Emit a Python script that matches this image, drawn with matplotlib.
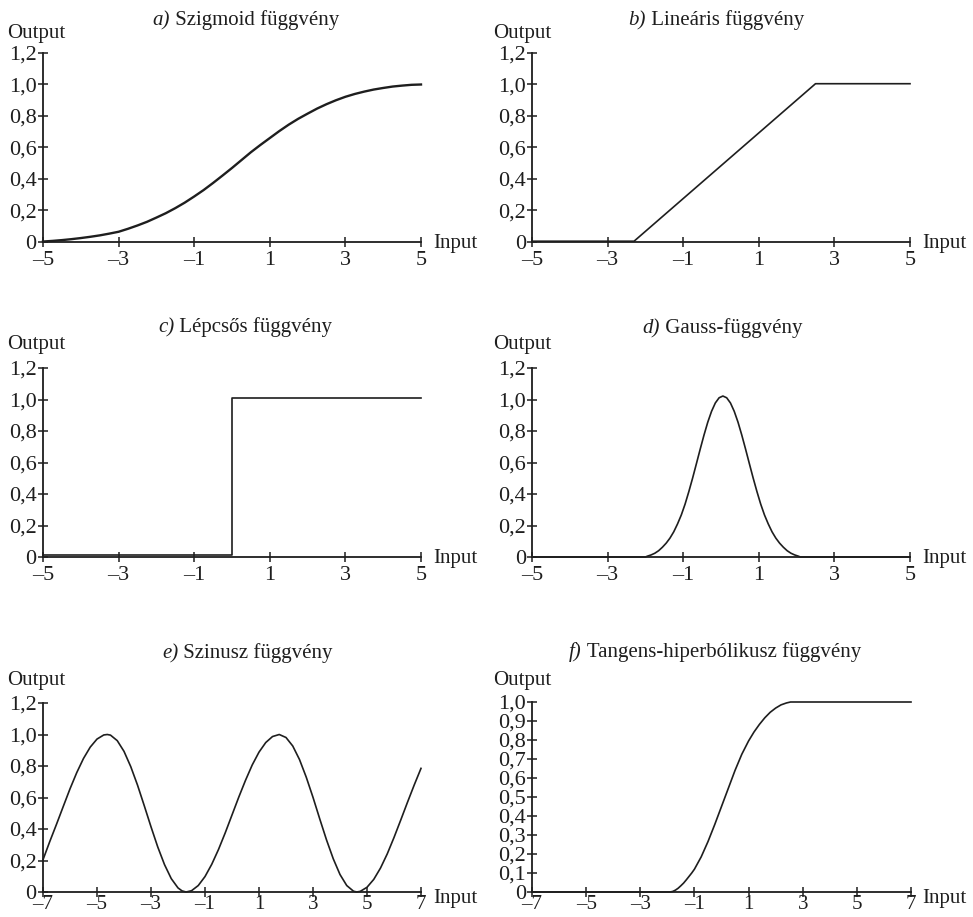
import matplotlib
matplotlib.use('Agg')
import matplotlib.pyplot as plt

W, H = 973, 917
plt.rcParams['font.family'] = ['Liberation Serif', 'DejaVu Serif']
plt.rcParams['font.size'] = 15

# ---------------- data ----------------
sig_x = [-5, -4.75, -4.5, -4.25, -4, -3.75, -3.5, -3.25, -3, -2.75, -2.5, -2.25, -2, -1.75, -1.5,
         -1.25, -1, -0.75, -0.5, -0.25, 0, 0.25, 0.5, 0.75, 1, 1.25, 1.5, 1.75, 2, 2.25, 2.5,
         2.75, 3, 3.25, 3.5, 3.75, 4, 4.25, 4.5, 4.75, 5]
sig_y = [0.003, 0.007, 0.012, 0.018, 0.025, 0.033, 0.042, 0.053, 0.065, 0.084, 0.105, 0.128,
         0.155, 0.183, 0.215, 0.25, 0.289, 0.33, 0.375, 0.422, 0.47, 0.52, 0.57, 0.616, 0.66,
         0.704, 0.745, 0.782, 0.815, 0.847, 0.875, 0.9, 0.922, 0.94, 0.955, 0.968, 0.978, 0.987,
         0.993, 0.998, 1.0]

lin_x = [-5, -2.3, 2.5, 5]
lin_y = [0.005, 0.005, 1.005, 1.005]

step_x = [-5, 0.0, 0.0, 5]
step_y = [0.015, 0.015, 1.01, 1.01]

gauss_x = [-5, -2.0, -1.95, -1.85, -1.75, -1.65, -1.55, -1.45, -1.35, -1.25, -1.15, -1.05, -0.95,
           -0.85, -0.75, -0.65, -0.55, -0.45, -0.35, -0.25, -0.15, -0.05, 0.05, 0.15, 0.25, 0.35,
           0.45, 0.55, 0.65, 0.75, 0.85, 0.95, 1.05, 1.15, 1.25, 1.35, 1.45, 1.55, 1.65, 1.75,
           1.85, 1.95, 2.05, 2.1, 5]
gauss_y = [0.0, 0.0, 0.005, 0.013, 0.024, 0.04, 0.062, 0.088, 0.12, 0.16, 0.21, 0.267, 0.336,
           0.416, 0.502, 0.593, 0.685, 0.774, 0.856, 0.925, 0.978, 1.011, 1.022, 1.011, 0.978,
           0.925, 0.856, 0.774, 0.685, 0.593, 0.502, 0.416, 0.336, 0.267, 0.21, 0.16, 0.12,
           0.088, 0.062, 0.04, 0.024, 0.013, 0.005, 0.0, 0.0]

sin_x = [-7, -6.75, -6.5, -6.25, -6, -5.75, -5.5, -5.25, -5, -4.75, -4.62, -4.5, -4.25, -4, -3.75,
         -3.5, -3.25, -3, -2.75, -2.5, -2.25, -2, -1.85, -1.7, -1.5, -1.25, -1, -0.75, -0.5,
         -0.25, 0, 0.25, 0.5, 0.75, 1, 1.25, 1.5, 1.75, 2, 2.25, 2.5, 2.75, 3, 3.25, 3.5, 3.75,
         4, 4.25, 4.5, 4.62, 4.75, 5, 5.25, 5.5, 5.75, 6, 6.25, 6.5, 6.75, 7]
sin_y = [0.205, 0.32, 0.43, 0.543, 0.655, 0.758, 0.848, 0.92, 0.971, 0.997, 1.0, 0.996, 0.961,
         0.893, 0.796, 0.679, 0.548, 0.414, 0.286, 0.174, 0.085, 0.026, 0.007, 0.0, 0.008, 0.041,
         0.098, 0.176, 0.27, 0.376, 0.489, 0.602, 0.709, 0.807, 0.888, 0.949, 0.987, 1.0, 0.981,
         0.927, 0.841, 0.729, 0.601, 0.464, 0.331, 0.211, 0.111, 0.041, 0.005, 0.0, 0.004,
         0.03, 0.08, 0.152, 0.242, 0.346, 0.457, 0.57, 0.68, 0.785]

tanh_x = [-7, -1.9, -1.8, -1.7, -1.6, -1.5, -1.4, -1.3, -1.2, -1.1, -1.0, -0.75, -0.5, -0.25, 0.0,
          0.25, 0.5, 0.75, 1.0, 1.2, 1.4, 1.6, 1.8, 2.0, 2.2, 2.4, 2.55, 7]
tanh_y = [0.0, 0.0, 0.003, 0.01, 0.02, 0.033, 0.047, 0.064, 0.082, 0.10, 0.12, 0.185, 0.265,
          0.355, 0.45, 0.545, 0.64, 0.725, 0.795, 0.842, 0.882, 0.917, 0.946, 0.968, 0.985,
          0.995, 1.0, 1.0]

xticks5 = [-5, -3, -1, 1, 3, 5]
xlabels5 = ['\u20135', '\u20133', '\u20131', '1', '3', '5']
xticks7 = [-7, -5, -3, -1, 1, 3, 5, 7]
xlabels7 = ['\u20137', '\u20135', '\u20133', '\u20131', '1', '3', '5', '7']
yticks12 = [0, 0.2, 0.4, 0.6, 0.8, 1.0, 1.2]
ylabels12 = ['0', '0,2', '0,4', '0,6', '0,8', '1,0', '1,2']
yticks10 = [0, 0.1, 0.2, 0.3, 0.4, 0.5, 0.6, 0.7, 0.8, 0.9, 1.0]
ylabels10 = ['0', '0,1', '0,2', '0,3', '0,4', '0,5', '0,6', '0,7', '0,8', '0,9', '1,0']

titles = [('a)', ' Szigmoid függvény'), ('b)', ' Lineáris függvény'),
          ('c)', ' Lépcsős függvény'), ('d)', ' Gauss-függvény'),
          ('e)', ' Szinusz függvény'), ('f)', ' Tangens-hiperbólikusz függvény')]

# ---------------- layout ----------------
C = '#1e1e1e'
fig = plt.figure(figsize=(W / 100, H / 100), dpi=100)

def fx(x):
    return x / W

def fy(y):
    return 1 - y / H

panels = [
    dict(r=(43, 421, 53, 242), x=sig_x, y=sig_y, xt=(xticks5, xlabels5), yt=(yticks12, ylabels12),
         xl=(-5, 5), yl=(0, 1.2), lw=1.7, t=(152, 25), o=(7, 38), i=(433, 248), xpad=3, xls=16),
    dict(r=(532, 910, 53, 242), x=lin_x, y=lin_y, xt=(xticks5, xlabels5), yt=(yticks12, ylabels12),
         xl=(-5, 5), yl=(0, 1.2), lw=1.2, t=(628, 25), o=(493, 38), i=(922, 248), xpad=3, xls=16),
    dict(r=(43, 421, 368, 557), x=step_x, y=step_y, xt=(xticks5, xlabels5), yt=(yticks12, ylabels12),
         xl=(-5, 5), yl=(0, 1.2), lw=1.2, t=(158, 332), o=(7, 349), i=(433, 563), xpad=3, xls=16),
    dict(r=(532, 910, 368, 557), x=gauss_x, y=gauss_y, xt=(xticks5, xlabels5), yt=(yticks12, ylabels12),
         xl=(-5, 5), yl=(0, 1.2), lw=1.2, t=(642, 333), o=(493, 349), i=(922, 563), xpad=3, xls=16),
    dict(r=(43, 421, 703, 892), x=sin_x, y=sin_y, xt=(xticks7, xlabels7), yt=(yticks12, ylabels12),
         xl=(-7, 7), yl=(0, 1.2), lw=1.2, t=(162, 658), o=(7, 685), i=(433, 903), xpad=-1, xls=15),
    dict(r=(532, 911, 702, 892), x=tanh_x, y=tanh_y, xt=(xticks7, xlabels7), yt=(yticks10, ylabels10),
         xl=(-7, 7), yl=(0, 1.0), lw=1.2, t=(569, 657), o=(493, 685), i=(922, 903), xpad=-1, xls=15),
]

for p, (tit_i, tit_rest) in zip(panels, titles):
    x0, x1, yt_, yb = p['r']
    ax = fig.add_axes([x0 / W, 1 - yb / H, (x1 - x0) / W, (yb - yt_) / H])
    ax.plot(p['x'], p['y'], color=C, lw=p['lw'], clip_on=False, solid_joinstyle='round')
    ax.set_xlim(*p['xl'])
    ax.set_ylim(*p['yl'])
    ax.set_xticks(p['xt'][0])
    ax.set_xticklabels(p['xt'][1])
    ax.set_yticks(p['yt'][0])
    ax.set_yticklabels(p['yt'][1])
    for s in ['top', 'right']:
        ax.spines[s].set_visible(False)
    for s in ['left', 'bottom']:
        ax.spines[s].set_color(C)
        ax.spines[s].set_linewidth(1.3)
    ax.tick_params(direction='inout', length=7, width=1.1, color=C, labelcolor=C,
                   labelsize=16, pad=1)
    ax.tick_params(axis='x', pad=p['xpad'], labelsize=p['xls'])
    ax.patch.set_visible(False)
    # title
    tx, ty = p['t']
    t1 = fig.text(fx(tx), fy(ty), tit_i, style='italic', ha='left', va='baseline',
                  fontsize=15, color=C)
    ax.annotate(tit_rest, xy=(1, 0), xycoords=t1, ha='left', va='bottom',
                fontsize=15, color=C, annotation_clip=False)
    ox, oy = p['o']
    fig.text(fx(ox), fy(oy), 'Output', ha='left', va='baseline', fontsize=15, color=C)
    ix, iy = p['i']
    fig.text(fx(ix), fy(iy), 'Input', ha='left', va='baseline', fontsize=15, color=C)

fig.savefig('out.png', dpi=100)
